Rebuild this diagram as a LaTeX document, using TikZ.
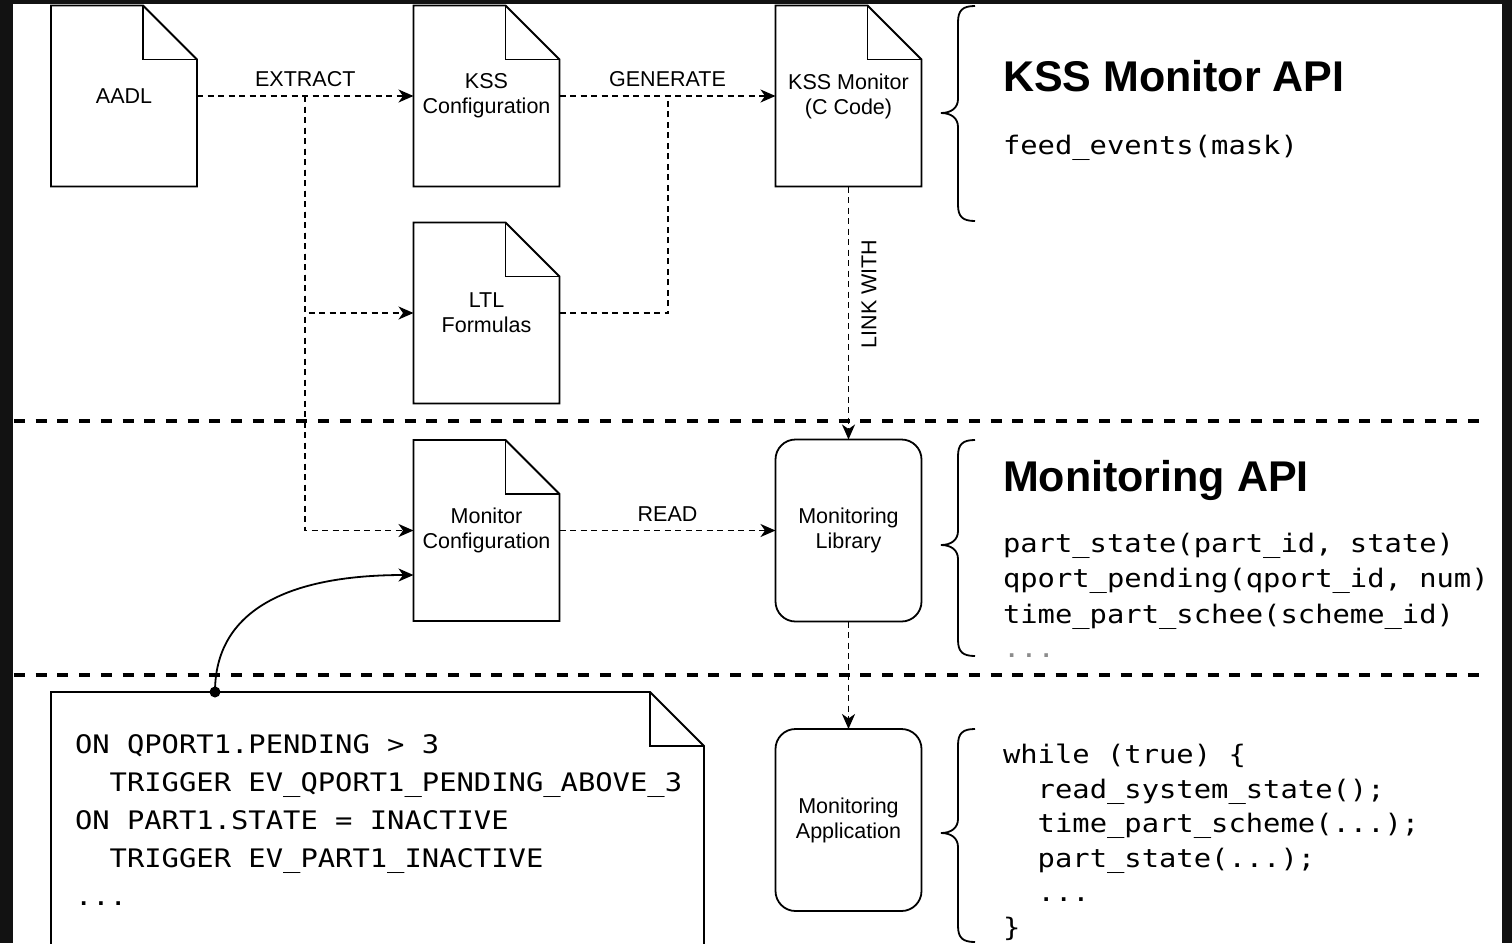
\documentclass[tikz,border=0pt]{standalone}
\usepackage{fontspec}
\setmainfont{Liberation Sans}
\newfontfamily\dgmono[FakeStretch=1.13]{DejaVu Sans Mono}
\usetikzlibrary{arrows.meta}

\definecolor{framecol}{HTML}{121212}
\newcommand\dgnode{\fontsize{21.5}{25}\selectfont}
\newcommand\dgtitle{\fontsize{43}{50}\selectfont\bfseries}
\newcommand\dgcode{\dgmono\fontsize{25.5}{30}\selectfont}

% document outline with a folded top-right corner
\newcommand\docpath[2]{%
  \draw[docline] (#1.north west) -- ([xshift=-#2]#1.north east)
    -- ([yshift=-#2]#1.north east) -- (#1.south east) -- (#1.south west) -- cycle;
  \draw[docline] ([xshift=-#2]#1.north east) |- ([yshift=-#2]#1.north east);}

% curly brace opening to the right: top, tip, bottom
\newcommand\apibrace[3]{%
  \draw[braceline] (975,#1) .. controls (963,#1) and (958,{#1+4}) .. (958,{#1+16})
    -- (958,{#2-14}) .. controls (958,{#2-5}) and (951,#2) .. (941,#2)
    .. controls (951,#2) and (958,{#2+5}) .. (958,{#2+14})
    -- (958,{#3-16}) .. controls (958,{#3-4}) and (963,#3) .. (975,#3);}

\begin{document}
\begin{tikzpicture}[x=1pt,y=-1pt,
  every node/.style={inner sep=0pt, outer sep=0pt},
  doc/.style={minimum width=146pt, minimum height=181pt, align=center, font=\dgnode},
  roundbox/.style={draw, line width=1.8pt, rounded corners=20pt, minimum width=146pt,
    minimum height=182pt, align=center, font=\dgnode},
  docline/.style={line width=1.8pt, line join=miter},
  braceline/.style={line width=1.8pt},
  flowplain/.style={line width=1.7pt, dash pattern=on 6pt off 4.5pt},
  flow/.style={flowplain, -{Stealth[length=15pt,width=13pt,inset=4.5pt]}},
  curvearrow/.style={line width=1.8pt, -{Stealth[length=15pt,width=13pt,inset=4.5pt]}},
  sepline/.style={line width=3.5pt, dash pattern=on 11pt off 10.7pt},
  elabel/.style={font=\dgnode, midway, above=9pt},
  title/.style={font=\dgtitle, anchor=base west},
  codeline/.style={font=\dgcode, anchor=base west},
]
\useasboundingbox (0,0) rectangle (1512,943);
\fill[framecol] (0,0) rectangle (1512,943);
\fill[white] (13,4) rectangle (1502,943);

\begin{scope}
\clip (13,4) rectangle (1502,943);

% layer separators
\draw[sepline] (14,421) -- (1486,421);
\draw[sepline] (14,675) -- (1486,675);

% artefacts
\node[doc] (aadl)   at (124,96)   {AADL};
\node[doc] (kss)    at (486.5,96) {KSS\\Configuration};
\node[doc] (kssmon) at (848.5,96) {KSS Monitor\\(C Code)};
\node[doc] (ltl)    at (486.5,313)  {LTL\\Formulas};
\node[doc] (moncfg) at (486.5,530.5){Monitor\\Configuration};
\node[roundbox] (lib) at (848.5,530.5) {Monitoring\\Library};
\node[roundbox] (app) at (848.5,820)   {Monitoring\\Application};
\node[minimum width=653pt, minimum height=300pt] (note) at (377.5,842) {};

\docpath{aadl}{54pt}
\docpath{kss}{54pt}
\docpath{kssmon}{54pt}
\docpath{ltl}{54pt}
\docpath{moncfg}{54pt}
\docpath{note}{54pt}

% flows
\draw[flow] (aadl) -- node[elabel] {EXTRACT} (kss);
\coordinate (xsplit) at (305,96);
\draw[flow] (xsplit) |- (ltl);
\draw[flow] (xsplit) |- (moncfg);
\draw[flow] (kss) -- node[elabel] {GENERATE} (kssmon);
\coordinate (gjoin) at (668,96);
\draw[flowplain] (ltl) -| (gjoin);
\draw[flow] (kssmon) -- node[font=\dgnode, pos=0.425, rotate=90, anchor=north, inner ysep=13pt] {LINK WITH} (lib);
\draw[flow] (moncfg) -- node[elabel] {READ} (lib);
\draw[flow] (lib) -- (app);

% note attachment
\coordinate (tap) at (215,692);
\draw[curvearrow] (tap) .. controls (215,612) and (285,575) .. ([yshift=-44.5pt]moncfg.west);
\fill (tap) circle (5.5pt);

% event rules
\node[codeline] (r1) at (75,753.5)  {ON QPORT1.PENDING > 3};
\node[codeline] (r2) at (75,791.5)  {\phantom{xx}TRIGGER EV\_QPORT1\_PENDING\_ABOVE\_3};
\node[codeline] (r3) at (75,829.5)  {ON PART1.STATE = INACTIVE};
\node[codeline] (r4) at (75,867.5)  {\phantom{xx}TRIGGER EV\_PART1\_INACTIVE};
\node[codeline] (r5) at (75,905.5)  {...};

% APIs
\apibrace{6}{113}{221}
\apibrace{440}{545}{656}
\apibrace{729}{833}{942}

\node[title] (t1) at (1003,91.5) {KSS Monitor API};
\node[codeline] (k1) at (1003,154) {feed\_events(mask)};

\node[title] (t2) at (1003,491.5) {Monitoring API};
\node[codeline] (m1) at (1003,552)   {part\_state(part\_id, state)};
\node[codeline] (m2) at (1003,587.5) {qport\_pending(qport\_id, num)};
\node[codeline] (m3) at (1003,623)   {time\_part\_schee(scheme\_id)};
\node[codeline, text=black!45] (m4) at (1003,657) {...};

\node[codeline] (a1) at (1003,763.5) {while (true) \{};
\node[codeline] (a2) at (1003,798)   {\phantom{xx}read\_system\_state();};
\node[codeline] (a3) at (1003,832.6) {\phantom{xx}time\_part\_scheme(...);};
\node[codeline] (a4) at (1003,867.2) {\phantom{xx}part\_state(...);};
\node[codeline] (a5) at (1003,901.8) {\phantom{xx}...};
\node[codeline] (a6) at (1003,936.4) {\}};
\end{scope}
\end{tikzpicture}
\end{document}
